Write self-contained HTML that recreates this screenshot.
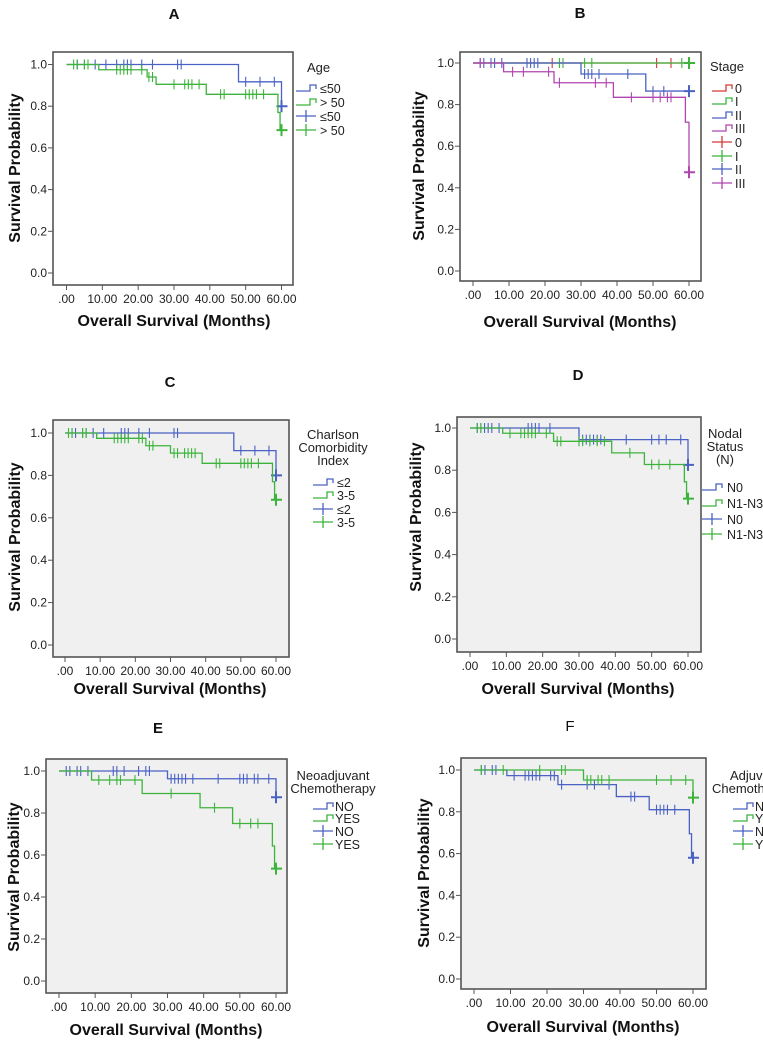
<!DOCTYPE html>
<html><head><meta charset="utf-8"><style>
html,body{margin:0;padding:0;background:#fff;}
svg{display:block;font-family:"Liberation Sans",Arial,sans-serif;}
</style></head><body>
<svg id="fig" width="763" height="1040" viewBox="0 0 763 1040"></svg>
<script>
// ---- data (drop times, survival after each drop, censor times) ----
const xTickLabels = [".00","10.00","20.00","30.00","40.00","50.00","60.00"];
const xTickValues = [0,10,20,30,40,50,60];
const yTickLabels = ["0.0","0.2","0.4","0.6","0.8","1.0"];
const yTickValues = [0,0.2,0.4,0.6,0.8,1.0];

const aLowTimes = [48,60];
const aLowSurv = [1.0,0.917,0.80];
const aLowCens = [3,5,8,11,14,16,17,18,21,24,31,32,50,54,58,60];
const aHighTimes = [9,22.5,25,39,59,59.6];
const aHighSurv = [1.0,0.975,0.94,0.905,0.857,0.77,0.685];
const aHighCens = [2,3,5,6,14,15,16,17,18,21,23,24,30,33,34,35,37,43,44,50,51,52,53,55,60];

const b0Times = [];
const b0Surv = [1.0];
const b0Cens = [22,51,55];
const b1Times = [];
const b1Surv = [1.0];
const b1Cens = [24,25,31,33,58,60];
const b2Times = [30,48];
const b2Surv = [1.0,0.947,0.865];
const b2Cens = [2,3,5,6,8,15,16,17,18,31,32,33,35,43,50,53,60];
const b3Times = [8.5,22.5,39,59,60];
const b3Surv = [1.0,0.958,0.905,0.835,0.715,0.475];
const b3Cens = [2,11,14,21,24,34,37,44,50,52,54,55,60];

const cLowTimes = [48,60];
const cLowSurv = [1.0,0.917,0.80];
const cLowCens = [2,3,5,6,8,11,16,17,18,21,24,31,32,50,54,58,60];
const cHighTimes = [9,23,30,39,59,59.6];
const cHighSurv = [1.0,0.975,0.94,0.905,0.857,0.77,0.685];
const cHighCens = [1,2,5,6,14,15,16,17,18,21,22,24,25,31,32,34,35,36,37,43,44,50,51,52,53,55,60];

const dN0Times = [30,60];
const dN0Surv = [1.0,0.945,0.825];
const dN0Cens = [2,3,4,5,6,8,16,17,18,19,22,31,32,33,34,35,36,43,50,52,54,58,60];
const dN1Times = [9,23,39,48,59,59.6];
const dN1Surv = [1.0,0.975,0.937,0.882,0.827,0.745,0.665];
const dN1Cens = [2,3,11,14,15,16,17,18,21,24,25,30,31,33,35,37,44,50,52,55,60];

const eNoTimes = [30,60];
const eNoSurv = [1.0,0.963,0.875];
const eNoCens = [2,3,5,6,8,15,16,18,22,24,25,31,32,33,34,35,37,44,50,51,52,54,55,58,60];
const eYesTimes = [9,23,39,48,59,59.6];
const eYesSurv = [1.0,0.957,0.893,0.825,0.75,0.643,0.535];
const eYesCens = [11,14,16,17,21,31,43,50,53,55,60];

const fNoTimes = [9,23,39,48,59,59.6];
const fNoSurv = [1.0,0.973,0.93,0.873,0.81,0.695,0.58];
const fNoCens = [2,3,5,6,11,14,15,16,17,18,21,22,24,31,33,37,43,44,50,51,52,53,55,60];
const fYesTimes = [30,60];
const fYesSurv = [1.0,0.952,0.868];
const fYesCens = [2,8,18,24,25,31,32,34,35,37,50,54,58,60];

const BLUE="#4a62c4", GREEN="#3cb43c", RED="#d23a3a", PURPLE="#b045b0";

const panels = [
 {id:"a",title:"A",bold:true,tx:174,ty:19,bg:"#fff",box:[53,52,293,285],x0:66.5,x60:281.5,y1:64.5,y0:273,ylx:14,yly:168,xlx:174,xly:326,
  series:[["le50",aLowTimes,aLowSurv,aLowCens,BLUE],["gt50",aHighTimes,aHighSurv,aHighCens,GREEN]],
  leg:{title:["Age"],tx:307,ty:72,anchor:"start",ey:[88,102,116,130],sx:296,lx:320,labels:["≤50","> 50","≤50","> 50"],colors:[BLUE,GREEN,BLUE,GREEN]}},
 {id:"b",title:"B",bold:true,tx:580,ty:18,bg:"#fff",box:[460,52,701,281],x0:473,x60:689,y1:63,y0:271,ylx:418,yly:166,xlx:580,xly:327,
  series:[["stage-0",b0Times,b0Surv,b0Cens,RED],["stage-i",b1Times,b1Surv,b1Cens,GREEN],["stage-ii",b2Times,b2Surv,b2Cens,BLUE],["stage-iii",b3Times,b3Surv,b3Cens,PURPLE]],
  leg:{title:["Stage"],tx:710,ty:71,anchor:"start",ey:[88,101,115,128,142,156,169,183],sx:712,lx:735,labels:["0","I","II","III","0","I","II","III"],colors:[RED,GREEN,BLUE,PURPLE,RED,GREEN,BLUE,PURPLE]}},
 {id:"c",title:"C",bold:true,tx:170,ty:387,bg:"#f0f0f0",box:[53,420,289,657],x0:65,x60:276,y1:433,y0:645,ylx:14,yly:537,xlx:170,xly:694,
  series:[["le2",cLowTimes,cLowSurv,cLowCens,BLUE],["3-5",cHighTimes,cHighSurv,cHighCens,GREEN]],
  leg:{title:["Charlson","Comorbidity","Index"],tx:333,ty:439,anchor:"middle",ey:[482,495,509,522],sx:313,lx:337,labels:["≤2","3-5","≤2","3-5"],colors:[BLUE,GREEN,BLUE,GREEN]}},
 {id:"d",title:"D",bold:true,tx:578,ty:380,bg:"#f0f0f0",box:[457,417,701,652],x0:470,x60:688,y1:428,y0:639,ylx:415,yly:517,xlx:578,xly:694,
  series:[["n0",dN0Times,dN0Surv,dN0Cens,BLUE],["n1-n3",dN1Times,dN1Surv,dN1Cens,GREEN]],
  leg:{title:["Nodal","Status","(N)"],tx:725,ty:438,anchor:"middle",ey:[487,503,519,534],sx:702,lx:727,labels:["N0","N1-N3","N0","N1-N3"],colors:[BLUE,GREEN,BLUE,GREEN]}},
 {id:"e",title:"E",bold:true,tx:158,ty:733,bg:"#f0f0f0",box:[46,759,287,993],x0:59,x60:276,y1:771,y0:981,ylx:13,yly:877,xlx:166,xly:1035,
  series:[["no",eNoTimes,eNoSurv,eNoCens,BLUE],["yes",eYesTimes,eYesSurv,eYesCens,GREEN]],
  leg:{title:["Neoadjuvant","Chemotherapy"],tx:333,ty:780,anchor:"middle",ey:[806,818,831,844],sx:313,lx:335,labels:["NO","YES","NO","YES"],colors:[BLUE,GREEN,BLUE,GREEN]}},
 {id:"f",title:"F",bold:false,tx:570,ty:731,bg:"#f0f0f0",box:[461,758,706,989],x0:474,x60:693,y1:770,y0:979,ylx:423,yly:873,xlx:583,xly:1032,
  series:[["no",fNoTimes,fNoSurv,fNoCens,BLUE],["yes",fYesTimes,fYesSurv,fYesCens,GREEN]],
  leg:{title:["Adjuvant","Chemotherapy"],tx:712,ty:780,anchor:"start",tyx:[730,712],ey:[806,818,831,844],sx:733,lx:755,labels:["NO","YES","NO","YES"],colors:[BLUE,GREEN,BLUE,GREEN]}}
];

const NS="http://www.w3.org/2000/svg";
const svg=document.getElementById('fig');
function mk(tag,attrs,parent,text){const e=document.createElementNS(NS,tag);for(const k in attrs)e.setAttribute(k,attrs[k]);if(text!==undefined)e.textContent=text;(parent||svg).appendChild(e);return e;}
function survAt(times,surv,t){let s=surv[0];for(let i=0;i<times.length;i++){if(times[i]<=t)s=surv[i+1];}return s;}

panels.forEach(p=>{
  const g=mk('g',{});
  
  
  const X=v=>p.x0+(p.x60-p.x0)*v/60;
  const Y=v=>p.y0+(p.y1-p.y0)*v;
  const t=mk('text',{x:p.tx,y:p.ty,'text-anchor':'middle','font-size':15,'font-weight':p.bold?'bold':'normal',fill:'#111'},g,p.title);
  
  
  const [bx0,by0,bx1,by1]=p.box;
  const r=mk('rect',{x:bx0,y:by0,width:bx1-bx0,height:by1-by0,fill:p.bg,stroke:'#555','stroke-width':1.6},g);
  
  
  yTickValues.forEach((v,i)=>{
    mk('line',{x1:bx0-5,x2:bx0,y1:Y(v),y2:Y(v),stroke:'#555','stroke-width':1},g);
    const l=mk('text',{x:bx0-6,y:Y(v)+4,'text-anchor':'end','font-size':12,fill:'#222'},g,yTickLabels[i]);
    
    
  });
  xTickValues.forEach((v,i)=>{
    mk('line',{x1:X(v),x2:X(v),y1:by1,y2:by1+5,stroke:'#555','stroke-width':1},g);
    const l=mk('text',{x:X(v),y:by1+18,'text-anchor':'middle','font-size':12,fill:'#222'},g,xTickLabels[i]);
    
    
  });
  const yl=mk('text',{x:p.ylx,y:p.yly,'text-anchor':'middle','font-size':16,'font-weight':'bold',fill:'#111',transform:`rotate(-90 ${p.ylx} ${p.yly})`,dy:6},g,'Survival Probability');
  
  
  const xl=mk('text',{x:p.xlx,y:p.xly,'text-anchor':'middle','font-size':16,'font-weight':'bold',fill:'#111'},g,'Overall Survival (Months)');
  
  
  p.series.forEach(([nm,times,surv,cens,col])=>{
    let d=`M${X(0)},${Y(surv[0])}`;
    times.forEach((tt,i)=>{d+=` H${X(tt)} V${Y(surv[i+1])}`;});
    const end=Math.max(60,...cens.filter(c=>c<=60));
    d+=` H${X(Math.min(end,60))}`;
    const pth=mk('path',{d:d,fill:'none',stroke:col,'stroke-width':1.3},g);
    
    
    cens.forEach(c=>{
      const s=survAt(times,surv,c);
      const last=c>=60;
      const m=mk('path',{d:last?`M${X(c)},${Y(s)-6}V${Y(s)+6}M${X(c)-5},${Y(s)}H${X(c)+6}`:`M${X(c)},${Y(s)-5}V${Y(s)+5}`,stroke:col,'stroke-width':last?2:1.1,fill:'none'},g);
      
      
    });
  });
  const L=p.leg;
  const lg=mk('g',{},g);
  
  
  L.title.forEach((line,i)=>{
    const tx=L.tyx?L.tyx[i]:L.tx;
    const tl=mk('text',{x:tx,y:L.ty+i*13,'text-anchor':L.anchor,'font-size':13,fill:'#222'},lg,line);
    
    
  });
  const half=L.labels.length/2;
  L.labels.forEach((lab,i)=>{
    const y=L.ey[i], x=L.sx, col=L.colors[i];
    const e=mk('g',{},lg);
    
    
    if(i<half){
      mk('path',{d:`M${x},${y+3}H${x+14}V${y-3}H${x+20}V${y+1}`,fill:'none',stroke:col,'stroke-width':1.3},e);
    }else{
      mk('path',{d:`M${x},${y}H${x+20}M${x+10},${y-6}V${y+6}`,fill:'none',stroke:col,'stroke-width':1.3},e);
    }
    mk('text',{x:L.lx,y:y+5,'font-size':12.5,fill:'#222'},e,lab);
  });
});
</script>
</body></html>
